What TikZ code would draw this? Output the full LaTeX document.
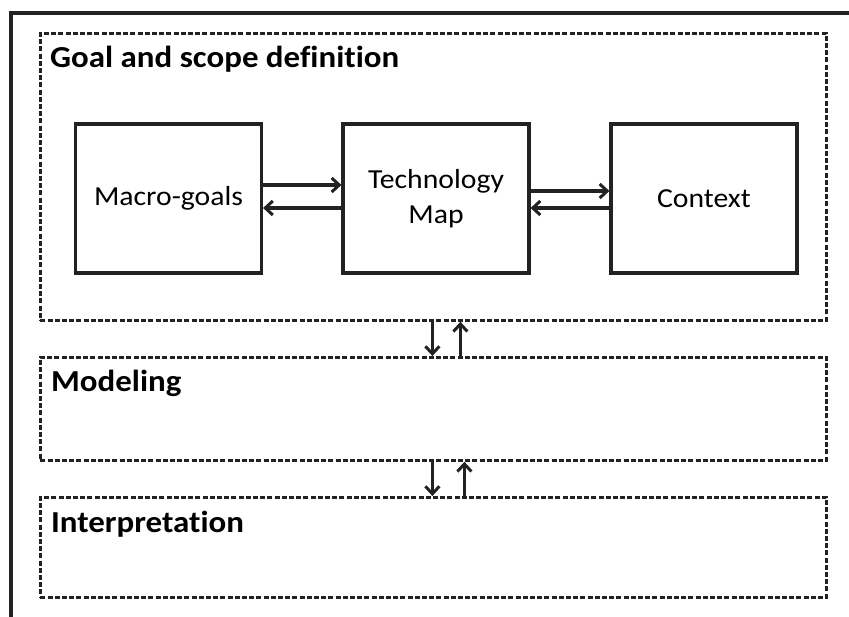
\documentclass[tikz,border=0pt]{standalone}
\usepackage{fontspec}
\setmainfont{Carlito}[FakeStretch=1.08, Ligatures=NoCommon]
\usetikzlibrary{arrows.meta}
\definecolor{ink}{HTML}{222222}
\tikzset{
  stage/.style={draw=ink, line width=2.8pt, dash pattern=on 5pt off 2.2pt,
    anchor=north west, inner sep=0pt},
  block/.style={draw=ink, line width=3.2pt, minimum width=186pt,
    minimum height=149pt, inner sep=0pt, font=\fontsize{27.5}{35}\selectfont,
    align=center, text=black},
  stagetitle/.style={anchor=base west, inner sep=0pt,
    font=\fontsize{30.5}{34}\selectfont\bfseries, text=black},
  flow/.style={draw=ink, line width=3.2pt,
    -{Straight Barb[length=7.5pt, width=14pt, line width=3pt]}},
}
\begin{document}
\begin{tikzpicture}[x=1pt, y=-1pt]
\useasboundingbox (0,0) rectangle (849,617);

% outer frame (top and left edges only)
\draw[ink, line width=3.5pt] (849,13) -- (11,13) -- (11,617);

% the three stages
\node[stage, minimum width=786pt, minimum height=287pt] (goal) at (39,32) {};
\node[stage, minimum width=786pt, minimum height=103pt] (model) at (39,356) {};
\node[stage, minimum width=786pt, minimum height=100pt] (interp) at (39,496) {};

\node[stagetitle] (goaltitle) at (50,68) {Goal and scope definition};
\node[stagetitle] (modeltitle) at (51,392) {Modeling};
\node[stagetitle] (interptitle) at (51,532) {Interpretation};

% blocks inside the goal stage
\node[block] (macro) at (168.5,198.5) {Macro-goals};
\node[block] (tech) at (436,198.5) {Technology\\Map};
\node[block] (context) at (704,198.5) {Context};

% links between blocks
\draw[flow] ([yshift=13.5pt]macro.east) -- ([yshift=13.5pt]tech.west);
\draw[flow] ([yshift=-9.5pt]tech.west) -- ([yshift=-9.5pt]macro.east);
\draw[flow] ([yshift=7.5pt]tech.east) -- ([yshift=7.5pt]context.west);
\draw[flow] ([yshift=-9.5pt]context.west) -- ([yshift=-9.5pt]tech.east);

% links between stages
\draw[flow] ([xshift=-1pt]goal.south) -- ([xshift=-1pt]model.north);
\draw[flow] ([xshift=27pt]model.north) -- ([xshift=27pt]goal.south);
\draw[flow] ([xshift=-1pt]model.south) -- ([xshift=-1pt]interp.north);
\draw[flow] ([xshift=31pt]interp.north) -- ([xshift=31pt]model.south);
\end{tikzpicture}
\end{document}
